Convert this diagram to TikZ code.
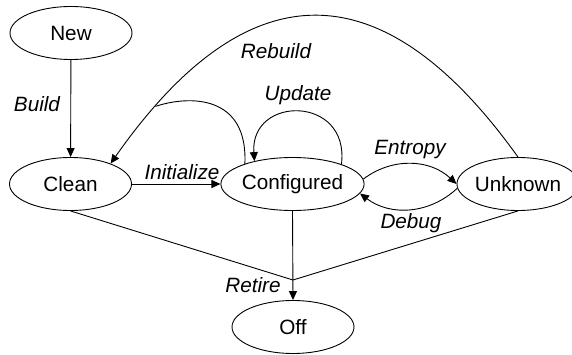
\documentclass[tikz,border=0pt]{standalone}
\usepackage{fontspec}
\setmainfont{Liberation Sans}
\usetikzlibrary{shapes.geometric,arrows.meta}
\begin{document}
\begin{tikzpicture}[x=1pt,y=1pt,
  state/.style={ellipse,draw,line width=0.9pt,minimum width=122pt,minimum height=53pt,inner sep=0pt,font=\fontsize{20.7}{24}\selectfont},
  lbl/.style={font=\fontsize{20.7}{24}\selectfont\itshape,inner sep=0pt},
  conn/.style={line width=0.9pt},
  arr/.style={conn,-{Triangle[length=9pt,width=8pt]}}]
\useasboundingbox (0,0) rectangle (572,-355);
\node[state] (new) at (71,-33) {New};
\node[state] (clean) at (70.5,-184) {Clean};
\node[state] (conf) at (292.5,-184) {Configured};
\node[state] (unk) at (518,-184) {Unknown};
\node[state] (off) at (293,-327) {Off};
\coordinate (j) at (293,-280);
% Build
\draw[arr] (new) -- (clean);
\node[lbl] (lbuild) at (37,-104) {Build};
% Initialize
\draw[arr] (clean) -- (conf);
\node[lbl] (linit) at (182,-172) {Initialize};
% Rebuild
\draw[arr] (unk.north) .. controls (382,33) and (247,31) .. coordinate[pos=0.89] (merge) (clean.27);
\draw[conn] (conf.157) .. controls (248,-95) and (190,-95) .. (merge);
\node[lbl] (lrebuild) at (276,-51) {Rebuild};
% Update
\draw[arr] (conf.22) .. controls (350,-95) and (250,-95) .. (conf.149);
\node[lbl] (lupdate) at (298,-95) {Update};
% Entropy / Debug
\draw[arr] (conf.4) to[bend left=40] (unk.180);
\node[lbl] (lentropy) at (410,-150) {Entropy};
\draw[arr] (unk.184) to[bend left=40] (conf.-8);
\node[lbl] (ldebug) at (411,-223) {Debug};
% Retire
\draw[conn] (clean.south) -- (j);
\draw[conn] (unk.south) -- (j);
\draw[arr] (conf.south) -- (off.north);
\node[lbl] (lretire) at (253,-285) {Retire};
\end{tikzpicture}
\end{document}
